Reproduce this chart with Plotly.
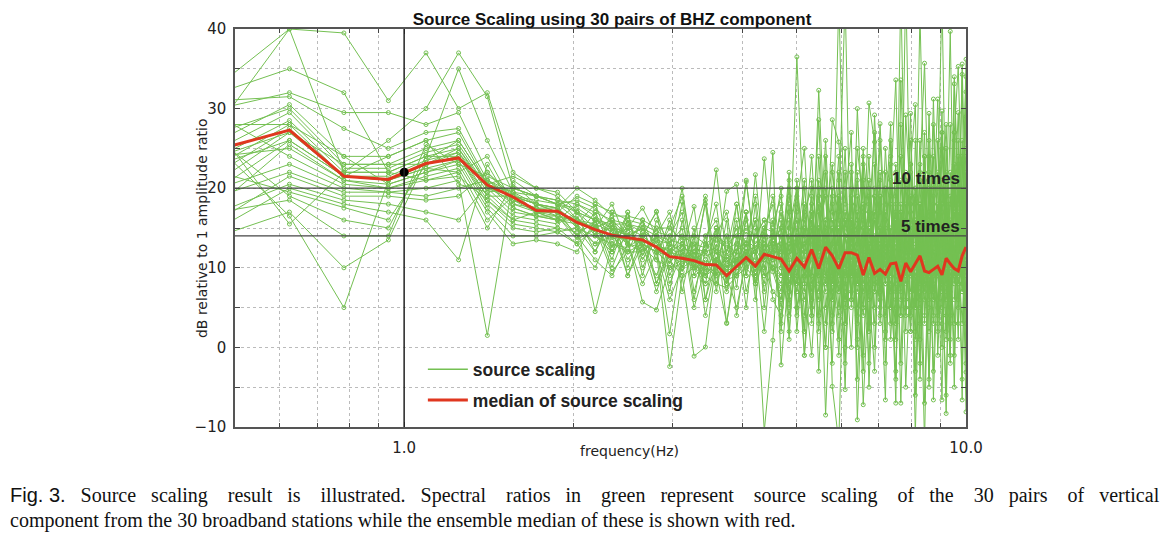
import plotly.graph_objects as go

# ---------------- data ----------------
freq_hz = [0.46875, 0.625, 0.78125, 0.9375, 1.09375, 1.25, 1.40625, 1.5625, 1.71875, 1.875,
           2.03125, 2.1875, 2.34375, 2.5, 2.65625, 2.8125, 2.96875, 3.125, 3.28125, 3.4375,
           3.59375, 3.75, 3.90625, 4.0625, 4.21875, 4.375, 4.53125, 4.6875, 4.84375, 5.0,
           5.15625, 5.3125, 5.46875, 5.625, 5.78125, 5.9375, 6.09375, 6.25, 6.40625, 6.5625,
           6.71875, 6.875, 7.03125, 7.1875, 7.34375, 7.5, 7.65625, 7.8125, 7.96875, 8.125,
           8.28125, 8.4375, 8.59375, 8.75, 8.90625, 9.0625, 9.21875, 9.375, 9.53125, 9.6875,
           9.84375, 10.0]

s01 = [33, 40, 39.5, 31, 37, 30, 32, 22, 20, 19.5,
       17, 16, 15.5, 14, 15, 13, 12, 13, 11, 12, 22.3, 11, 9, 12, 10, 13, 12,
       12, 9, 36.5, 14, 8, 11, 15, 6, 13, 10, 9, 16, 11, 7, 13, 18, 10, 8, 14, 12, 9, 15, 11, 6, 13, 10, 17, 12, 8, 14, 11, 9, 16, 13, 10]
s02 = [28, 40, 22, 26, 30, 37, 31.5, 20, 19, 18,
       16, 15, 14, 15, 17.5, 14, 13, 12, 10, 11, 10, 8, 11, 13, 9, 12, 10,
       8, 13, 10, 6, 12, 15, 9, 11, 7, 14, 10, 8, 15, 12, 9, 6, 13, 11, 16, 8, 12, 10, 7, 14, 9, 12, 6, 11, 15, 8, 13, 10, 12, 7, 14]
s03 = [32, 35, 32, 22, 24, 35, 26, 19.5, 19, 18.5,
       18, 16.5, 15, 13, 12.5, 11, 10, 10.5, 12, 9, 11, 9.5, 12, 10, 21.7, 11, 13,
       15, 7, 11, 13, 9, 32.3, 12, 8, 44, 10, 14, 7, 12, 9, 16, 11, 5, 13, 10, 8, 15, 12, 9, 11, 6, 14, 10, 13, 8, 12, 9, 11, 14, 10, 13]
s04 = [30, 32, 29.5, 29.5, 28, 29.5, 22, 19, 18, 17.5,
       15, 14, 13, 12.5, 14, 17.1, 12, 11, 10, 13, 12, 8.5, 9, 11, 10, 23.7, 12,
       5, 12, 14, 9, 11, 28.6, 8, 13, 10, 6, 12, 15, 9, 11, 14, 7, 12, 10, 8, 13, 11, 9, 16, 10, 12, 7, 14, 11, 9, 13, 10, 15, 8, 12, 11]
s05 = [31, 31.5, 27.5, 25, 27, 27.5, 21, 18.5, 17.5, 16.5,
       16, 14.5, 15, 14.5, 13, 12, 10.5, 18.3, 9, 10, 9, 10, 11, 12, 8, 11, 24.5,
       -2.2, 10, 8, 15, 12, 13, 9, 28.6, 25.8, 14, 9, 11, 7, 13, 10, 12, 8, 14, 11, 9, 13, 10, 6, 12, 15, 8, 11, 13, 10, 9, 14, 12, 8, 11, 10]
s06 = [26, 30.5, 24, 24, 26, 27, 20.5, 18, 17, 17,
       14, 17, 12, 16, 11.5, 15, 8, 12, 17.7, 6, 13, 7, 14, 5, 15, 9, 16,
       10, 4, 12, 18, 7, 14, 3, 16, 9, 20, 6, 13, 17, 2, 11, 15, 8, 19, 5, 12, 16, 7, 10, 21, 4, 13, 18, 9, 3, 15, 11, 19, 6, 14, 17]
s07 = [27, 30, 23, 23, 25, 26, 20.5, 17.5, 16.5, 16,
       15.5, 4.5, 13, 12, 12, 13.5, 11, 9, 10, 18.5, 10.5, 19.6, 20.5, 11, 12, 9, 10,
       13, 17, 5, 10, 15, 2, 12, 18, 7, 11, 20, 9, 4, 14, 16, 8, 22, 11, 3, 17, 10, 14, 5, 18, 12, 6, 20, 10, 15, 2, 16, 9, 21, 11, 5]
s08 = [25, 29.5, 22.5, 22.5, 24.5, 25.5, 20, 17, 16.5, 16.5,
       13.5, 15, 16, 14, 13, 12, 12.5, 10, 11, 9.5, 10, 11, 10, 20.8, 12, 14, 11,
       9, 14, 11, 2, 16, 10, 7, 13, 19, 5, 12, 17, 8, 15, 3, 13, 10, 18, 6, 14, 20, 9, 12, 3, 16, 11, 7, 17, 13, 19, 4, 12, 15, 8, 22]
s09 = [24, 28.5, 22, 22, 24, 25, 19.5, 16.5, 16, 15.5,
       17, 16, 14.5, 13.5, 5.7, 4.7, 10, 11, 12, 10, 12, 9, 5, 11, 10, 12, 14,
       11, 6, 15, 12, 4, 17, 11, 2, 14, 9, 15, 4, 11, 19, 8, 12, 16, 1, 13, 10, 6, 17, 14, 9, 19, 12, 3, 14, 18, 7, 13, 17, 10, 20, 6]
s10 = [23, 28, 21.5, 21.5, 23.5, 24.5, 19, 16, 17, 16,
       16, 14.5, 13.5, 15, 14, 12.5, 1.7, 12, 11, 10, 9.5, 3.1, 10.5, 12, 11, 13, 11,
       14, 11, 7, 16, 13, 9, 15, 10, 4, 17, 11, 14, 20, 8, 12, 5, 15, 9, 17, 11, 14, 4, 18, 12, 8, 16, 12, 5, 11, 17, 7, 14, 12, 3, 16]
s11 = [22, 27.5, 21.5, 21, 23, 24, 18.5, 15.5, 15, 14.5,
       15, 13, 14, 12, 13, 12, -2.4, 9, -1.1, 0.05, 11, 10, 11, 13, 9, 12, 10,
       7, 18, 2, 13, 24, 9, 0, 15, 11, 25, 5, 14, -3, 18, 9, 26, 12, 3, 16, -2, 21, 10, 6, 23, 13, -4, 17, 11, 27, 6, 15, -5, 20, 12, 25]
s12 = [21, 27, 21.5, 21, 23, 24, 18, 15, 14.5, 15,
       14.5, 15.5, 12, 14, 15, 13, 12, 11.5, 10, 9, 8, 7.5, 9, 10, 8.5, -10.5, 0.9,
       16, 5, 20, 8, -1, 14, 22, 6, 17, 3, 19, -4, 12, 24, 7, 15, 2, 21, 10, 28, 4, 16, -6, 13, 22, 9, 19, 3, 25, 14, 1, 18, 29.5, 8, 20]
s13 = [20, 26, 21.5, 21, 22.5, 23.5, 17.5, 14, 14, 14.5,
       13, 10, 15, 9, 14, 8, 13, 15, 6, 14, 9, 16, 4, 12, 16, 7, 13,
       3, 12, 17, -1, 9, 21, 5, 13, 24, 0, 16, 8, 25, -5, 14, 11, 20, 7, -3, 17, 13, 23, 2, 18, -7, 15, 10, 22, 0, 19, 12, 27, 5, 16, -2]
s14 = [18, 25.5, 21, 20.5, 22, 23, 17, 13, 13.5, 13,
       12, 16, 11, 17, 10, 14, 7, 16, 9, 13, 18, 8, 12, 17, 6, 14, 19,
       12, 20, 8, 15, 3, 18, 11, -2, 19, 14, 6, 22, 10, 16, 27, 3, 14, 23, 9, 18, -5, 11, 20, 7, 24, 13, -3, 16, 21, 10, 28, 6, 14, -4, 22]
s15 = [24, 25, 21, 20, 21.5, 22.5, 16, 19, 17, 16,
       16.5, 12, 17, 10, 15, 11, 16, 7, 14, 19, 8, 12, 15, 9, 18, 5, 14,
       20, 2, 14, 9, 17, 4, 13, 20, 1, 16, 10, 19, -1, 13, 5, 22, 9, 15, -4, 21, 11, 2, 26, 14, 8, 20, 4, 13, 7, 25, 10, 23, 3, 18, 9]
s16 = [29, 24, 20.5, 20, 21, 22, 15, 20.5, 18, 17.5,
       15.5, 18, 12.5, 17, 9, 16, 13, 20, 10, 8, 14, 17, 9, 13, 19, 10, 7,
       6, 15, 19, 4, 14, 12, 0, 22, 16, 7, 23, 1, 15, 11, 20, 8, 25, 13, 1, 14, 18, 5, 12, 26, 3, 16, 24, -1, 12, 20, 5, 17, 11, 26, 3]
s17 = [20, 23, 20, 19.5, 20, 21, 1.5, 21, 19, 18,
       17.5, 16, 15, 14, 13, 12, 11.5, 11.5, 10.5, 9, 10, 10.5, 11, 12, 9.5, 12.5, 13,
       11, 22, 4, 17, 20, -3, 16, 9, 21, 12, 0, 16, 23, 6, 19, 17, -2, 12, 22, 7, 14, 19, 9, -2, 16, 22, 8, 18, 14, 1, 19, 10, 24, 7, 14]
s18 = [19, 22, 19.5, 19.5, 19, 20, 21, 19, 18, 17,
       16, 15.5, 14.5, 13, 12, 14, 10.5, 13, 11, 8, 9.5, 9, 10, 11, 10, 11, 12,
       17, 8, 13, 21, 5, 15, 19, 4, 10, 22, 7, 12, 18, 2, 23, 10, 16, 5, 20, 13, 2, 22, 15, 10, 27, 5, 14, 26, 9, -6, 22, 13, 1, 23, 15]
s19 = [16, 21.5, 19, 19, 18.5, 19, 22, 18.5, 17.5, 17.5,
       15, 12, 16, 9, 13, 7, 12, 14, 5, 10, 15, 3, 12, 17, 8, 15, 6,
       4, 16, 10, 7, 18, 11, 8, 17, 13, -2, 14, 21, 5, 17, 10, 19, 4, 11, 15, 24, 9, 13, 1, 17, 11, 26, 6, 12, 20, 16, -1, 21, 9, 13, 29]
s20 = [17, 20.5, 18.5, 18, 17, 16, 20.5, 19.5, 17, 16.5,
       14, 11, 9, 13, 8, 12, 6, 10, 14, 4, 11, 9, 16, 7, 12, 2, 13,
       13, 6, 21, 11, 9, 19, 14, 12, -1, 15, 18, 3, 14, 21, 0, 13, 18, 24, 8, 4, 16, 26, 13, 5, 20, 11, 21, 2, 17, 28, 9, 3, 18, 24, 11]
s21 = [15, 20, 18, 17, 16, 11, 23, 17.5, 16.5, 16,
       18, 17, 16, 15.5, 14.5, 13.5, 13, 12.5, 12, 11.5, 12, 11, 12.5, 13, 12, 13.5, 14,
       14, 1, 18, 25, 9, 20, -8.5, 13, 17, 44, 6, 30, 14, -2, 19, 8, 16, 28.1, 3, 12, 22, 15, -3, 18, 7, 29.4, 12, 4, 20, 16, 39.7, 10, 23, 13, 36.2]
s22 = [22, 19.5, 17.5, 16, 23, 25, 20, 18.5, 17, 17,
       19, 18, 17, 16, 15.5, 14.5, 14, 14, 13, 12.5, 13.5, 12.5, 13, 14.5, 13, 15, 14.5,
       10, 21, 5, 9, 16, 3, 24, -4.9, -12, 18, 27, -9.1, 11, 30.7, 25.8, 4, 20, 12, -7, 33.6, 14, 2, 19, 8, 24, -5, 17, 31.2, 11, -8.3, 18, 26, 9, 35.6, 15]
s23 = [26, 19, 16, 15, 24, 24, 19, 19, 18, 17.5,
       20, 18.5, 16.5, 16.5, 16, 15, 15, 13.5, 14, 13, 14, 13, 14, 15, 14, 16, 15.5,
       19, 7, 14, 2, 21, 12, 26, 8, 15, -5.3, 22, 16, -7.2, 9, 29.2, 13, 1, 20, 33.6, 6, 29.2, 18, -11, 14, 21, 2, 28, 15, 29.7, 10, -2, 33.1, 20, 8, 32.1]
s24 = [17, 18.5, 14, 14, 25.5, 23, 21.5, 20, 19, 18,
       17, 15, 18, 13, 16, 12, 15, 19, 11, 14, 16, 10, 13, 21, 12, 15, 18,
       2, 15, 20, 12, 6, 24, 11, 19, 5, 14, 9, 25, 18, 3, 17, 10, -6.6, 26, 7, 45, 12, 29.4, 5, 22, 35.7, 15, 7, 20, 44, 13, 3, 27, 35.3, 17, 34]
s25 = [14, 17, 10, 13.5, 23.5, 26, 20.5, 21.5, 20, 19,
       16, 15, 14, 13.5, 13.5, 12.5, 12.5, 11.5, 11.5, 10.5, 10.5, 9.5, 10.5, 11.5, 10.5, 11.5, 11,
       18, 12, 9, 17, 4, 13, 20, 3, 22, 10, 15, 0, 24, 17, 11, 28.1, 14, 5, 19, -7.0, 16, 23, 30.5, -4, 13, 24, -6.6, 12, 27, 18, 6, 22, 13, 34.3, -3.1]
s26 = [25, 16.5, 5, 21, 22.5, 22, 24, 18, 17.5, 17,
       14, 16, 10, 15, 12.5, 9, 14, 17, 7, 12, 15, 8, 18, 9, 14, 16, 10,
       9, 19, 13, -1, 15, 8, 16, 23, 11, 3, 18, 13, 21, 7, -3, 19, 11, 14, 23, 8, 46, 12, 16, 1, 20, 9, 31.2, 13, -6.6, 22, 14, -1, 26, 11, 20]
s27 = [27, 15.5, 22, 22, 21, 21.5, 18.5, 16, 15.5, 15,
       13, 15, 9.5, 12, 16, 8, 12, 9.5, 15, 6, 11, 14, 7.5, 17, 8, 13, 9.5,
       6, 13, 16, 8, 19, 7, 12, 9, 15, 6, 13, 10, 5, 20, 12, 9, 15, 11, 18, 4, 14, 10, 20, 12, -12, 17, 9, 14, 5, 19, 13, 8, 17, -6.6, 24]
s28 = [24, 27, 23, 23, 23, 24.5, 20, 19, 18.5, 18,
       18.5, 17.5, 15.5, 15.5, 15, 14, 13.5, 13, 12.5, 12, 12.5, 11.5, 12, 13.5, 12.5, 14.5, 13.5,
       15, 10, 7, 20, 12, 6, 14, 10, 18, 8, 16, 5, 13, 17, 9, 21, 10, 7, 15, 14, 5, 18, 10, 16, 9, 20, 13, 6, 18, 4, 15, 20, 12, 17, -8.1]
s29 = [28, 28, 24, 20.5, 22, 23.5, 21, 19.5, 18, 17,
       15.5, 13, 16, 11, 14, 17, 9, 13, 11, 18, 7, 14, 10, 16, 12, 8, 15,
       11, 14, 9, 12, 17, 10, 13, 15, 8, 16, 12, 9, 16, 13, 7, 11, 17, 13, 10, 15, 8, 14, 12, 42, 16, 11, 15, 9, 13, 17, 10, 34.0, 13, 16, 12]
s30 = [23, 26, 21.5, 24, 26, 20.5, 19.5, 20, 19, 18.5,
       17, 14, 12, 16, 11, 14, 17, 10, 13, 9, 15, 12, 18, 11, 16, 10, 14,
       12, 8, 13, 10, 6, 15, 11, 7, 13, 9, 14, 8, 10, 15, 12, 7, 13, 9, 16, 11, 10, 14, 7, 12, 10, 16, 10, 14, 8, 13, 11, 9, 15, 10, 13]

median_db = [24.9, 27.3, 21.5, 21.1, 23.1, 23.8, 20.4, 18.9, 17.2, 17.1,
             15.7, 14.8, 14.1, 13.8, 13.5, 12.6, 11.4, 11.2, 10.9, 10.4, 10.35, 9.0, 10.2, 11.3, 10.2, 11.7, 11.4,
             11.1, 9.6, 11.2, 10.1, 12.3, 9.9, 12.6, 11.5, 9.9, 11.9, 11.9, 11.6, 9.1, 11.3, 9.3, 9.8, 9.2, 10.5,
             10.6, 8.3, 10.6, 9.5, 10.5, 11.5, 9.6, 9.4, 9.8, 10.2, 9.1, 11.2, 10.5, 9.9, 9.6, 11.5, 12.6]

ref_freq = [1.0]
ref_db = [22.0]
level_db = [20, 14]
level_labels = ["10 times", "5 times"]

green_series = [s01, s02, s03, s04, s05, s06, s07, s08, s09, s10,
                s11, s12, s13, s14, s15, s16, s17, s18, s19, s20,
                s21, s22, s23, s24, s25, s26, s27, s28, s29, s30]

caption_1 = ("Source scaling result is illustrated. Spectral ratios in green represent "
             "source scaling of the 30 pairs of vertical")
caption_2 = "component from the 30 broadband stations while the ensemble median of these is shown with red."

GREEN = "#74c052"
RED = "#e0371f"

fig = go.Figure()
for s in green_series:
    fig.add_trace(go.Scatter(
        x=freq_hz, y=s, mode="lines+markers",
        line=dict(color=GREEN, width=1),
        marker=dict(symbol="circle-open", size=4, color=GREEN, line=dict(width=1)),
        showlegend=False, hoverinfo="skip"))

fig.add_trace(go.Scatter(x=[None], y=[None], mode="lines", name="source scaling",
                         line=dict(color=GREEN, width=1.3), legendgroup="g1"))
fig.add_trace(go.Scatter(x=freq_hz, y=median_db, mode="lines", name="median of source scaling",
                         line=dict(color=RED, width=3), legendgroup="g2"))
fig.add_trace(go.Scatter(x=ref_freq, y=ref_db, mode="markers", showlegend=False,
                         marker=dict(color="black", size=9)))

for lv, lab in zip(level_db, level_labels):
    fig.add_shape(type="line", xref="paper", x0=0, x1=1, yref="y", y0=lv, y1=lv,
                  line=dict(color="#444444", width=1.3), layer="above")
    fig.add_annotation(xref="paper", x=0.995, yref="y", y=lv, text=lab, showarrow=False,
                       xanchor="right", yanchor="bottom", yshift=-2,
                       font=dict(family="Liberation Sans", size=17, color="#222222", weight="bold"))

fig.add_shape(type="line", xref="x", x0=1.0, x1=1.0, yref="paper", y0=0, y1=1,
              line=dict(color="#222222", width=1.5), layer="above")

tickfont = dict(family="DejaVu Sans", size=15, color="#222222")

fig.update_xaxes(type="log", range=[-0.30103, 1.0],
                 tickvals=[1, 10], ticktext=["1.0", "10.0"], tickfont=tickfont,
                 showgrid=False, ticks="inside", ticklen=5, tickcolor="#444",
                 showline=True, linecolor="#555", linewidth=1.5, mirror="ticks",
                 ticklabelstandoff=6, zeroline=False,
                 minor=dict(tickvals=[0.6, 0.7, 0.8, 0.9, 2, 3, 4, 5, 6, 7, 8, 9],
                            ticks="inside", ticklen=4, tickcolor="#444",
                            showgrid=True, gridcolor="#bbbbbb", griddash="dot", gridwidth=1))
fig.update_yaxes(range=[-10, 40], tickvals=[-10, 0, 10, 20, 30, 40], tickfont=tickfont,
                 showgrid=True, gridcolor="#bbbbbb", griddash="dot", gridwidth=1,
                 ticks="inside", ticklen=5, tickcolor="#444",
                 showline=True, linecolor="#555", linewidth=1.5, mirror="ticks",
                 zeroline=False, ticklabelstandoff=4,
                 minor=dict(dtick=5, ticks="inside", ticklen=5, tickcolor="#444",
                            showgrid=True, gridcolor="#bbbbbb", griddash="dot"))

fig.add_annotation(xref="paper", x=-0.0451, yref="paper", y=0.5, text="dB relative to 1 amplitude ratio",
                   textangle=-90, showarrow=False, xanchor="center", yanchor="middle",
                   font=dict(family="DejaVu Sans", size=14, color="#222222"))
fig.add_annotation(xref="paper", x=0.54, yref="paper", y=-0.035, text="frequency(Hz)",
                   showarrow=False, xanchor="center", yanchor="top",
                   font=dict(family="DejaVu Sans", size=14, color="#222222"))

gaps = ["\u00a0\u00a0 ", "\u00a0\u00a0\u00a0 "]
words = caption_1.split(" ")
line1 = words[0]
for i, w in enumerate(words[1:]):
    line1 += gaps[i % 2] + w

cap_font = dict(family="Liberation Serif", size=20, color="#111111")
fig.add_annotation(xref="paper", x=-0.3105, yref="paper", y=-0.171, xanchor="left", yanchor="middle",
                   showarrow=False, font=cap_font,
                   text="<span style='font-family:Liberation Sans'>Fig.\u00a03.</span>\u00a0\u00a0 " + line1)
fig.add_annotation(xref="paper", x=-0.3105, yref="paper", y=-0.234, xanchor="left", yanchor="middle",
                   showarrow=False, font=cap_font, text=caption_2)

fig.update_layout(
    width=1166, height=534,
    margin=dict(l=227, r=208, t=21, b=115),
    paper_bgcolor="white", plot_bgcolor="white",
    title=dict(text="Source Scaling using 30 pairs of BHZ component", x=0.518, xanchor="center",
               y=0.979, yanchor="middle",
               font=dict(family="Liberation Sans", size=17, color="#111111", weight="bold")),
    legend=dict(x=0.257, y=0.19, xanchor="left", yanchor="top", bgcolor="rgba(0,0,0,0)",
                font=dict(family="Liberation Sans", size=17.5, color="#222222", weight="bold"),
                tracegroupgap=5, itemwidth=40),
    showlegend=True,
)

fig.write_html("out.html")
